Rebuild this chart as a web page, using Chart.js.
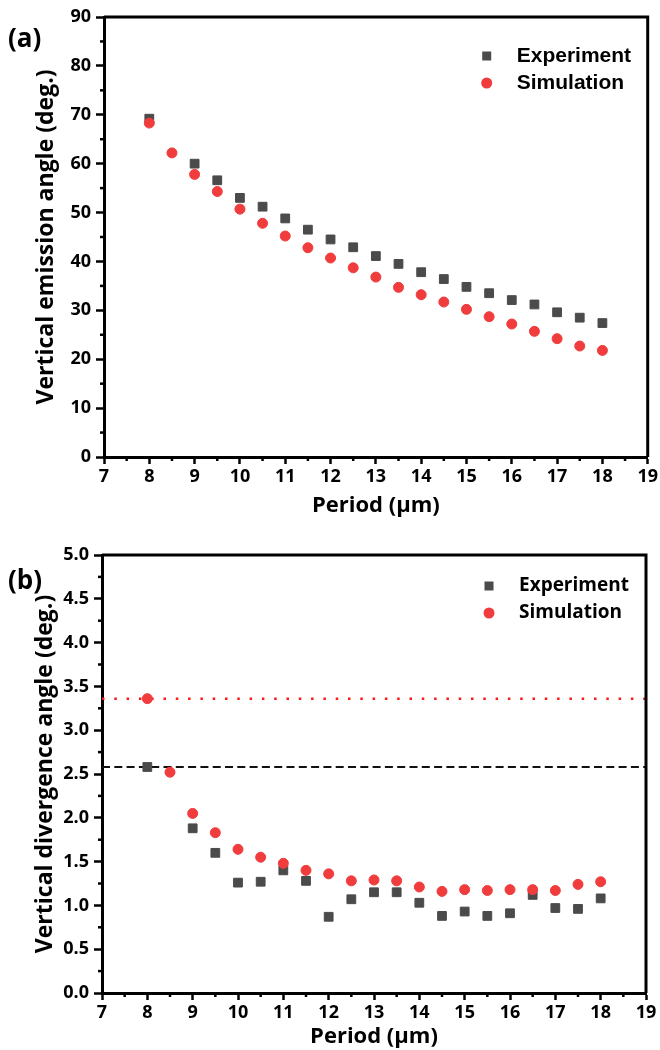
<!DOCTYPE html>
<html>
<head>
<meta charset="utf-8">
<script src="https://cdn.jsdelivr.net/npm/chart.js@4.4.1/dist/chart.umd.min.js"></script>
<style>
  body { margin: 0; background: #fff; }
  .panel { position: relative; width: 660px; height: 525px; }
  .tag { position: absolute; font-family: 'Open Sans', sans-serif; font-weight: 700; font-size: 26px; line-height: 1; }
</style>
</head>
<body>
<div class="panel">
  <canvas id="chartA" width="660" height="525"></canvas>
  <div class="tag" style="left:8px; top:24px">(a)</div>
</div>
<div class="panel">
  <canvas id="chartB" width="660" height="525"></canvas>
  <div class="tag" style="left:8px; top:41px">(b)</div>
</div>
<script>
// period of the grating (µm)
const periods = [8, 8.5, 9, 9.5, 10, 10.5, 11, 11.5, 12, 12.5, 13, 13.5, 14, 14.5, 15, 15.5, 16, 16.5, 17, 17.5, 18];

// (a) vertical emission angle (deg.)
const emissionExperiment = [69.2, null, 60.0, 56.6, 53.0, 51.2, 48.8, 46.5, 44.5, 42.9, 41.1, 39.5, 37.8, 36.4, 34.8, 33.5, 32.1, 31.2, 29.6, 28.5, 27.4];
const emissionSimulation = [68.3, 62.2, 57.8, 54.3, 50.7, 47.8, 45.2, 42.8, 40.7, 38.7, 36.8, 34.7, 33.2, 31.7, 30.2, 28.7, 27.2, 25.7, 24.2, 22.7, 21.8];

// (b) vertical divergence angle (deg.)
const divergenceExperiment = [2.58, null, 1.88, 1.60, 1.26, 1.27, 1.40, 1.28, 0.87, 1.07, 1.15, 1.15, 1.03, 0.88, 0.93, 0.88, 0.91, 1.12, 0.97, 0.96, 1.08];
const divergenceSimulation = [3.36, 2.52, 2.05, 1.83, 1.64, 1.55, 1.48, 1.40, 1.36, 1.28, 1.29, 1.28, 1.21, 1.16, 1.18, 1.17, 1.18, 1.18, 1.17, 1.24, 1.27];

// reference levels in (b)
const experimentLevel = 2.58;
const simulationLevel = 3.36;

// axis ranges [min, max, step]
const periodAxis = [7, 19, 1];
const emissionAxis = [0, 90, 10];
const divergenceAxis = [0, 5, 0.5];

const expColor = '#4b4b4b';
const simColor = '#f03c3c';
const tickFont = { family: 'Open Sans', size: 18, weight: 'bold' };
const xTitleFont = { family: 'Open Sans', size: 22, weight: 'bold' };
const yTitleFont = { family: 'Open Sans', size: 23, weight: 'bold' };

Chart.defaults.color = '#000';

const toPoints = (vals) => periods.map((p, i) => ({ x: p, y: vals[i] })).filter(pt => pt.y !== null);

// draws the box frame, minor ticks and the in-plot legend
const framePlugin = {
  id: 'frame',
  afterDraw(chart, args, opts) {
    const { ctx, chartArea: a, scales } = chart;
    ctx.save();
    ctx.strokeStyle = '#000';
    ctx.lineWidth = 3;
    ctx.beginPath();
    ctx.moveTo(a.left, a.top); ctx.lineTo(a.right, a.top); ctx.lineTo(a.right, a.bottom);
    ctx.stroke();

    // minor ticks
    ctx.lineWidth = 2.5;
    const [xmin, xmax, xstep] = opts.xAxis;
    for (let v = xmin + xstep / 2; v < xmax; v += xstep) {
      const px = scales.x.getPixelForValue(v);
      ctx.beginPath(); ctx.moveTo(px, a.bottom); ctx.lineTo(px, a.bottom + 4); ctx.stroke();
    }
    const [ymin, ymax, ystep] = opts.yAxis;
    for (let v = ymin + ystep / 2; v < ymax; v += ystep) {
      const py = scales.y.getPixelForValue(v);
      ctx.beginPath(); ctx.moveTo(a.left, py); ctx.lineTo(a.left - 4, py); ctx.stroke();
    }

    // legend
    const mx = a.right - opts.legendRight;
    const y1 = a.top + opts.legendTop;
    const y2 = y1 + opts.legendGap;
    ctx.fillStyle = expColor;
    ctx.fillRect(mx - 4.5, y1 - 4.5, 9, 9);
    ctx.fillStyle = simColor;
    ctx.beginPath(); ctx.arc(mx, y2, 5.5, 0, Math.PI * 2); ctx.fill();
    ctx.fillStyle = '#000';
    ctx.font = opts.legendFont;
    ctx.textBaseline = 'middle';
    ctx.fillText(chart.data.datasets[0].label, mx + 30, y1);
    ctx.fillText(chart.data.datasets[1].label, mx + 30, y2);
    ctx.restore();
  }
};

function makeChart(id, cfg) {
  const [ymin, ymax, ystep] = cfg.yAxis;
  return new Chart(document.getElementById(id), {
    type: 'scatter',
    data: { datasets: cfg.datasets },
    options: {
      responsive: false,
      animation: false,
      devicePixelRatio: 1,
      layout: { padding: { top: cfg.top, right: cfg.right, left: 0, bottom: 0 } },
      plugins: {
        legend: { display: false },
        tooltip: { enabled: false },
        frame: {
          xAxis: periodAxis, yAxis: cfg.yAxis,
          legendRight: cfg.legendRight, legendTop: cfg.legendTop, legendGap: cfg.legendGap,
          legendFont: cfg.legendFont
        }
      },
      scales: {
        x: {
          type: 'linear',
          min: periodAxis[0], max: periodAxis[1],
          afterFit: (s) => { s.height = cfg.xHeight; },
          border: { display: true, color: '#000', width: 3 },
          grid: { drawOnChartArea: false, drawTicks: true, tickLength: 7, tickWidth: 2.5, tickColor: '#000' },
          ticks: { stepSize: periodAxis[2], font: tickFont, padding: 2, maxRotation: 0 },
          title: { display: true, text: 'Period (µm)', font: xTitleFont, padding: { bottom: cfg.xTitlePad } }
        },
        y: {
          min: ymin, max: ymax,
          afterFit: (s) => { s.width = cfg.yWidth; },
          border: { display: true, color: '#000', width: 3 },
          grid: { drawOnChartArea: false, drawTicks: true, tickLength: 8, tickWidth: 2.5, tickColor: '#000' },
          ticks: { stepSize: ystep, font: tickFont, padding: 5, callback: cfg.yFormat },
          title: { display: true, text: cfg.yTitle, font: yTitleFont, padding: { top: cfg.yTitlePad } }
        }
      }
    },
    plugins: [framePlugin]
  });
}

makeChart('chartA', {
  top: 17, right: 12, yWidth: 104, xHeight: 68, xTitlePad: 6, yTitlePad: 33,
  yAxis: emissionAxis,
  yTitle: 'Vertical emission angle (deg.)',
  yFormat: (v) => v,
  legendRight: 161, legendTop: 39, legendGap: 27,
  legendFont: 'bold 21px "Liberation Sans"',
  datasets: [
    { label: 'Experiment', data: toPoints(emissionExperiment), pointStyle: 'rect', pointRadius: 6.2,
      backgroundColor: expColor, borderColor: expColor, borderWidth: 1, order: 1 },
    { label: 'Simulation', data: toPoints(emissionSimulation), pointStyle: 'circle', pointRadius: 5,
      backgroundColor: simColor, borderColor: simColor, borderWidth: 1, order: 0 }
  ]
});

makeChart('chartB', {
  top: 30, right: 14, yWidth: 102, xHeight: 57, xTitlePad: 0, yTitlePad: 32,
  yAxis: divergenceAxis,
  yTitle: 'Vertical divergence angle (deg.)',
  yFormat: (v) => v.toFixed(1),
  legendRight: 157, legendTop: 31, legendGap: 27,
  legendFont: 'bold 19px "Open Sans"',
  datasets: [
    { label: 'Experiment', data: toPoints(divergenceExperiment), pointStyle: 'rect', pointRadius: 6.2,
      backgroundColor: expColor, borderColor: expColor, borderWidth: 1, order: 1 },
    { label: 'Simulation', data: toPoints(divergenceSimulation), pointStyle: 'circle', pointRadius: 5,
      backgroundColor: simColor, borderColor: simColor, borderWidth: 1, order: 0 },
    { type: 'line', label: 'Experiment level',
      data: [{ x: periodAxis[0], y: experimentLevel }, { x: periodAxis[1], y: experimentLevel }],
      borderColor: '#111', borderWidth: 2, borderDash: [8, 4.3], pointRadius: 0, order: 3 },
    { type: 'line', label: 'Simulation level',
      data: [{ x: periodAxis[0], y: simulationLevel }, { x: periodAxis[1], y: simulationLevel }],
      borderColor: '#ff1a1a', borderWidth: 2.5, borderDash: [2.5, 9.8], pointRadius: 0, order: 3 }
  ]
});
</script>
</body>
</html>
